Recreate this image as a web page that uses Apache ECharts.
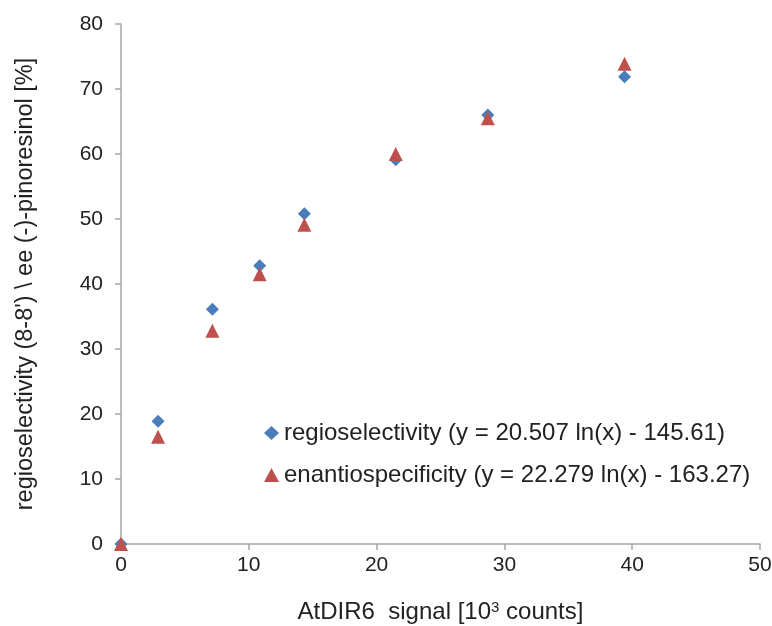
<!DOCTYPE html>
<html>
<head>
<meta charset="utf-8">
<script src="https://cdn.jsdelivr.net/npm/echarts@6/dist/echarts.min.js"></script>
<style>
  html, body { margin: 0; padding: 0; background: #fff; }
  #chart { width: 772px; height: 626px; }
</style>
</head>
<body>
<div id="chart"></div>
<script>
// signal [10^3 counts]
var signal = [0, 2.9, 7.15, 10.85, 14.35, 21.5, 28.7, 39.4];
var regio = [0, 18.9, 36.1, 42.8, 50.8, 59.1, 66.0, 71.9];
var enantio = [0, 16.5, 32.8, 41.5, 49.1, 60.0, 65.5, 73.9];
var regioName = 'regioselectivity (y = 20.507 ln(x) - 145.61)';
var enantioName = 'enantiospecificity (y = 22.279 ln(x) - 163.27)';

function pairs(xs, ys) {
    return xs.map(function (x, i) { return [x, ys[i]]; });
}

var axisGray = '#a6a6a6';
var font = 'Liberation Sans, Arial, sans-serif';

var chart = echarts.init(document.getElementById('chart'));
chart.setOption({
    animation: false,
    textStyle: { fontFamily: font },
    grid: { left: 121, right: 12, top: 24, bottom: 82, outerBoundsMode: 'none' },
    legend: {
        orient: 'vertical',
        left: 259,
        top: 416,
        itemWidth: 15,
        itemHeight: 14,
        itemGap: 18,
        textStyle: { fontSize: 24, lineHeight: 24, color: '#222', fontFamily: font },
        data: [
            { name: regioName, icon: 'diamond' },
            { name: enantioName, icon: 'triangle' }
        ]
    },
    xAxis: {
        type: 'value',
        min: 0, max: 50, interval: 10,
        name: 'AtDIR6  signal [10{sup|3} counts]',
        nameLocation: 'middle',
        nameGap: 56,
        nameTextStyle: {
            fontSize: 24, color: '#222', fontFamily: font,
            rich: { sup: { fontSize: 15, verticalAlign: 'top', padding: [0, 0, 10, 0], color: '#222' } }
        },
        axisLine: { show: true, lineStyle: { color: axisGray, width: 1.5 } },
        axisTick: { show: true, inside: false, length: 6, lineStyle: { color: axisGray, width: 1.5 } },
        axisLabel: { fontSize: 21, color: '#222', margin: 11 },
        splitLine: { show: false }
    },
    yAxis: {
        type: 'value',
        min: 0, max: 80, interval: 10,
        name: "regioselectivity (8-8') \\ ee (-)-pinoresinol [%]",
        nameLocation: 'middle',
        nameGap: 83,
        nameTextStyle: { fontSize: 23.5, color: '#222', fontFamily: font },
        axisLine: { show: true, lineStyle: { color: axisGray, width: 1.5 } },
        axisTick: { show: true, inside: false, length: 6, lineStyle: { color: axisGray, width: 1.5 } },
        axisLabel: { fontSize: 21, color: '#222', margin: 18 },
        splitLine: { show: false }
    },
    series: [
        {
            name: regioName,
            type: 'scatter',
            symbol: 'diamond',
            symbolSize: 13,
            itemStyle: { color: '#4a7ebb', opacity: 1 },
            data: pairs(signal, regio)
        },
        {
            name: enantioName,
            type: 'scatter',
            symbol: 'triangle',
            symbolSize: 14,
            itemStyle: { color: '#c0504d', opacity: 1 },
            data: pairs(signal, enantio)
        }
    ]
});
</script>
</body>
</html>
